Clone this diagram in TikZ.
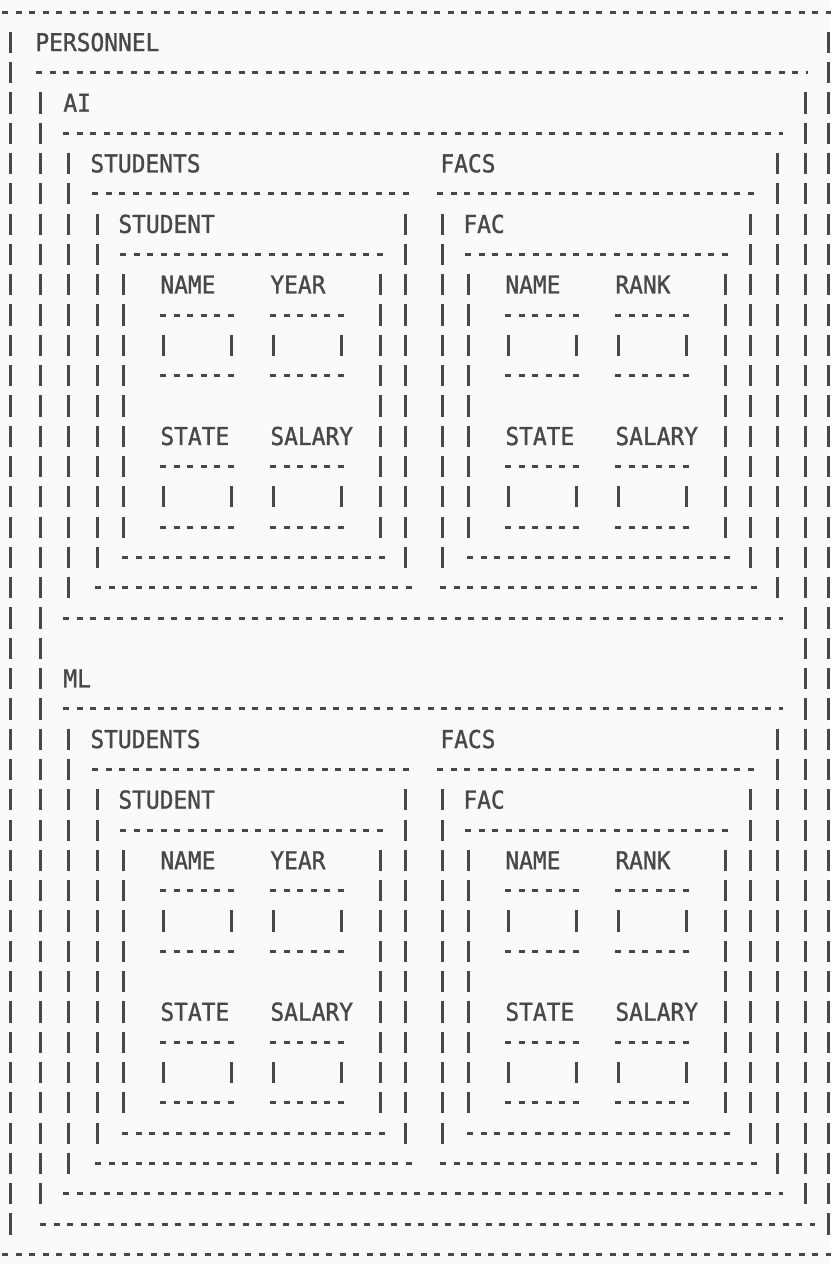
\documentclass[tikz,border=0pt]{standalone}
\usepackage{fontspec}
\newfontfamily\prtfont{DejaVu Sans Mono}[FakeStretch=0.93, FakeBold=1.2]
\definecolor{paper}{RGB}{250,250,250}
\definecolor{ink}{RGB}{72,72,72}
\begin{document}
\begin{tikzpicture}[x=0.5pt, y=-15.15pt,
  every node/.style={font=\prtfont\fontsize{12.3}{14}\selectfont, text=ink, inner sep=0pt, anchor=base west},
  hdash/.style={ink, line width=1.5pt, dash pattern=on 3.2pt off 3.55pt},
  vbar/.style={ink, line width=1.5pt, dash pattern=on 10.6pt off 4.55pt}]
\fill[paper] (0,-0.396) rectangle (831,41.32);
\useasboundingbox (0,-0.396) rectangle (831,41.32);
% outer record
\draw[hdash] (2,0) -- (831,0);
\node (personnel) at (35,1.29) {PERSONNEL};
\draw[vbar] (10,0.65) -- (10,40.35);
\draw[vbar] (828,0.65) -- (828,40.35);
\draw[hdash] (2,41) -- (831,41);
% list of groups
\draw[hdash] (36,2) -- (808,2);
\draw[vbar] (40,2.65) -- (40,39.35);
\draw[vbar] (805,2.65) -- (805,39.35);
\draw[hdash] (40,40) -- (815,40);
\foreach \o/\lab/\nm in {0/AI/ai, 19/ML/ml} {
  \begin{scope}[shift={(0,\o)}]
  \node (\nm) at (63,3.29) {\lab};
  \draw[hdash] (63,4) -- (783,4);
  \draw[vbar] (68,4.65) -- (68,19.35);
  \draw[vbar] (777,4.65) -- (777,19.35);
  \draw[hdash] (63,20) -- (783,20);
  \node (\nm-students) at (90,5.29) {STUDENTS};
  \node (\nm-facs) at (440,5.29) {FACS};
  % one record per column
  \foreach \dx/\rec/\tag/\fb/\fbn in {0/STUDENT/student/YEAR/year, 345/FAC/fac/RANK/rank} {
    \begin{scope}[shift={(\dx,0)}]
    \draw[hdash] (92,6) -- (410,6);
    \draw[vbar] (97,6.65) -- (97,18.35);
    \draw[vbar] (405,6.65) -- (405,18.35);
    \draw[hdash] (95,19) -- (415,19);
    \node (\nm-\tag) at (118,7.29) {\rec};
    \draw[hdash] (120,8) -- (385,8);
    \draw[vbar] (123,8.65) -- (123,17.35);
    \draw[vbar] (380,8.65) -- (380,17.35);
    \draw[hdash] (122,18) -- (388,18);
    \foreach \fx/\fy/\fld/\fn in {160/9/NAME/name, 270/9/\fb/\fbn, 160/14/STATE/state, 270/14/SALARY/salary} {
      \node (\nm-\tag-\fn) at (\fx,\fy+0.29) {\fld};
      \draw[hdash] (\fx,\fy+1) -- (\fx+73.5,\fy+1);
      \draw[vbar] (\fx+3,\fy+1.65) -- (\fx+3,\fy+2.35);
      \draw[vbar] (\fx+71,\fy+1.65) -- (\fx+71,\fy+2.35);
      \draw[hdash] (\fx,\fy+3) -- (\fx+73.5,\fy+3);
    }
    \end{scope}
  }
  \end{scope}
}
\end{tikzpicture}
\end{document}
